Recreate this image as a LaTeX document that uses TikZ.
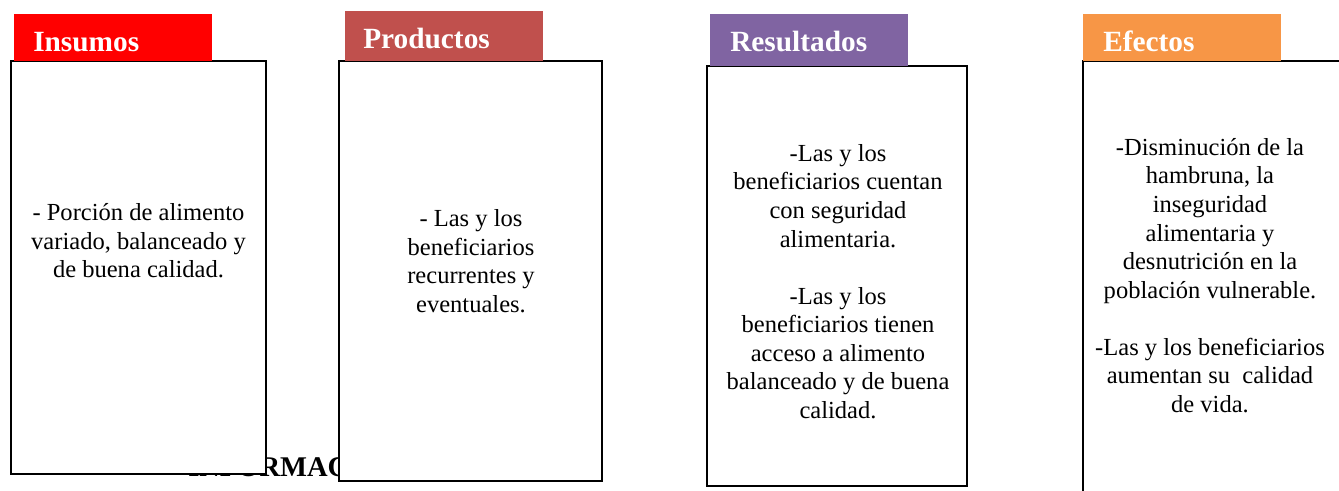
\documentclass[tikz,border=0pt]{standalone}
\usepackage{fontspec}
\setmainfont{Liberation Serif}
\usepackage{xcolor}
\usepackage{tikz}
\definecolor{insumoscol}{HTML}{FF0000}
\definecolor{productoscol}{HTML}{C0504D}
\definecolor{resultadoscol}{HTML}{8064A2}
\definecolor{efectoscol}{HTML}{F79646}

\begin{document}
\begin{tikzpicture}%
        [x=0.75pt, y=-0.75pt,
        caja/.style={draw=black, line width=1.5pt, fill=white, inner sep=0pt},
        cabecera/.style={inner sep=0pt, minimum width=148.5pt},
        titulo/.style={text=white, font=\fontsize{22pt}{26pt}\selectfont\bfseries, inner sep=0pt},
        texto/.style={align=center, font=\fontsize{18.4pt}{21.4pt}\selectfont, inner sep=0pt},
        oculto/.style={font=\fontsize{21.4pt}{25pt}\selectfont\bfseries, inner sep=0pt}]

    \useasboundingbox (0,0) rectangle (1339,491);

    %% Texto de fondo, tapado por las cajas
    \node[oculto, anchor=base west] (informacion) at (188,477) {INFORMACIÓN};

    %% Cajas
    \node[caja, minimum width=191.25pt, minimum height=309.75pt] (insumos) at (138.5,267.5) {};
    \node[caja, minimum width=197.25pt, minimum height=315pt] (productos) at (470.5,271) {};
    \node[caja, minimum width=195pt, minimum height=315pt] (resultados) at (837,276) {};
    \node[caja, minimum width=193.5pt, minimum height=344.25pt] (efectos) at (1212,290.5) {};

    %% Cabeceras
    \node[cabecera, fill=insumoscol, minimum height=35.25pt] (cabInsumos) at (113,37.5) {};
    \node[cabecera, fill=productoscol, minimum height=37.5pt] (cabProductos) at (444,36) {};
    \node[cabecera, fill=resultadoscol, minimum height=39pt] (cabResultados) at (809,40) {};
    \node[cabecera, fill=efectoscol, minimum height=35.25pt] (cabEfectos) at (1182,37.5) {};
    \node[titulo, anchor=base west] (tInsumos) at (33,52) {Insumos};
    \node[titulo, anchor=base west] (tProductos) at (363,49) {Productos};
    \node[titulo, anchor=base west] (tResultados) at (730,52) {Resultados};
    \node[titulo, anchor=base west] (tEfectos) at (1103,52) {Efectos};

    %% Contenido
    \node[texto] (txtInsumos) at (138.5,241) {- Porción de alimento\\variado, balanceado y\\de buena calidad.};
    \node[texto] (txtProductos) at (471,261) {- Las y los\\beneficiarios\\recurrentes y\\eventuales.};
    \node[texto] (txtResultados) at (838,281.5) {-Las y los\\beneficiarios cuentan\\con seguridad\\alimentaria.\\[\baselineskip]
        -Las y los\\beneficiarios tienen\\acceso a alimento\\balanceado y de buena\\calidad.};
    \node[texto] (txtEfectos) at (1210,275.5) {-Disminución de la\\hambruna, la\\inseguridad\\alimentaria y\\desnutrición en la\\población vulnerable.\\[\baselineskip]
        -Las y los beneficiarios\\aumentan su\ \ calidad\\de vida.};
\end{tikzpicture}
\end{document}
